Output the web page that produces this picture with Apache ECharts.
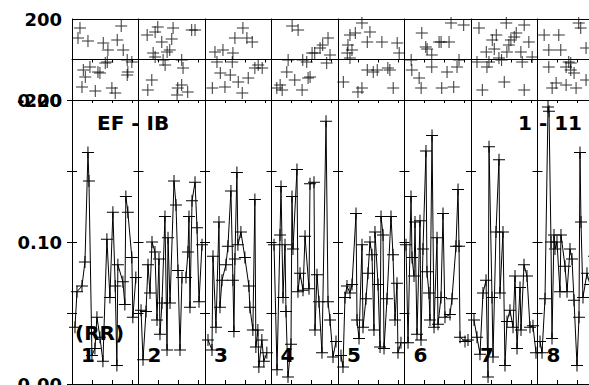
<!DOCTYPE html>
<html>
<head>
<meta charset="utf-8">
<script src="https://cdn.jsdelivr.net/npm/echarts@6/dist/echarts.min.js"></script>
<style>
  html, body { margin: 0; padding: 0; background: #fff; }
  #chart { width: 589px; height: 385px; }
</style>
</head>
<body>
<div id="chart"></div>
<script>
// lower panel (RR), one array per segment: [x, value]
const rr1 = [[0.45,0.040],[0.75,0.065],[1.5,0.069],[1.95,0.086],[2.4,0.163],[2.55,0.143],[3.0,0.020],[3.45,0.025],[3.75,0.047],[4.2,0.033],[4.65,0.016],[5.25,0.102],[5.7,0.061],[6.15,0.121],[6.5,0.069],[6.75,0.013],[6.9,0.084],[7.65,0.072],[7.95,0.056],[8.1,0.132],[8.4,0.121],[9.0,0.089],[9.15,0.047],[9.6,0.075]]
const rr2 = [[0.38,0.052],[0.68,0.017],[1.13,0.051],[1.43,0.084],[1.73,0.064],[2.03,0.100],[2.48,0.093],[2.78,0.045],[3.08,0.088],[3.23,0.035],[3.53,0.057],[3.98,0.118],[4.29,0.024],[4.44,0.103],[4.74,0.057],[5.34,0.143],[5.64,0.126],[5.94,0.080],[6.24,0.024],[6.54,0.075],[7.14,0.075],[7.44,0.093],[7.59,0.118],[7.74,0.054],[8.05,0.129],[8.5,0.142],[8.8,0.110],[9.1,0.058],[9.55,0.098]]
const rr3 = [[0.45,0.031],[1.05,0.024],[1.2,0.090],[1.65,0.040],[2.1,0.114],[2.25,0.054],[2.55,0.073],[3.15,0.084],[3.45,0.097],[3.9,0.136],[4.2,0.073],[4.35,0.037],[4.5,0.088],[4.8,0.149],[4.95,0.098],[5.4,0.107],[6.0,0.089],[6.6,0.069],[6.75,0.054],[7.2,0.038],[7.5,0.130],[7.65,0.026],[7.95,0.038],[8.1,0.012],[8.55,0.031],[8.85,0.016],[9.3,0.022]]
const rr4 = [[0.38,0.098],[0.83,0.010],[1.28,0.105],[1.43,0.139],[1.73,0.061],[2.03,0.098],[2.18,0.051],[2.48,0.005],[2.93,0.028],[3.08,0.132],[3.23,0.095],[3.83,0.151],[3.98,0.065],[4.29,0.078],[4.74,0.066],[5.04,0.104],[5.64,0.067],[5.79,0.141],[6.39,0.142],[6.54,0.038],[6.84,0.077],[7.14,0.058],[7.59,0.022],[8.2,0.185],[8.5,0.058],[8.8,0.045],[9.25,0.019],[9.7,0.030]]
const rr5 = [[0.45,0.020],[0.75,0.012],[1.05,0.061],[1.35,0.069],[1.8,0.064],[2.11,0.070],[2.71,0.120],[2.86,0.045],[3.16,0.032],[3.61,0.098],[3.76,0.040],[4.21,0.060],[4.51,0.078],[4.81,0.100],[5.11,0.091],[5.41,0.038],[5.56,0.107],[6.02,0.070],[6.32,0.026],[6.47,0.118],[6.77,0.105],[6.92,0.025],[7.37,0.060],[7.97,0.118],[8.27,0.091],[8.57,0.045],[8.87,0.071],[9.02,0.022],[9.47,0.029]]
const rr6 = [[0.23,0.098],[0.53,0.029],[0.98,0.132],[1.13,0.089],[1.43,0.076],[1.58,0.114],[1.88,0.035],[2.33,0.115],[2.48,0.031],[2.78,0.095],[3.23,0.164],[3.38,0.079],[3.68,0.064],[3.83,0.045],[4.14,0.175],[4.44,0.040],[4.89,0.103],[5.04,0.042],[5.49,0.061],[5.79,0.120],[6.09,0.047],[6.84,0.049],[7.14,0.060],[7.74,0.097],[8.05,0.137],[8.2,0.097],[8.35,0.033],[9.1,0.030],[9.55,0.031]]
const rr7 = [[0.45,0.045],[0.9,0.033],[1.35,0.021],[1.8,0.064],[2.26,0.073],[2.56,0.005],[2.71,0.167],[3.16,0.061],[3.31,0.019],[3.76,0.107],[4.21,0.158],[4.36,0.064],[4.81,0.107],[5.11,0.013],[5.41,0.044],[5.86,0.052],[6.32,0.040],[6.62,0.076],[6.92,0.025],[7.37,0.068],[7.52,0.038],[7.97,0.084],[8.42,0.076],[8.87,0.040],[9.32,0.041],[9.77,0.022]]
const rr8 = [[0.38,0.030],[0.68,0.022],[1.13,0.060],[1.58,0.195],[1.73,0.192],[2.03,0.100],[2.18,0.032],[2.48,0.105],[2.63,0.095],[2.93,0.100],[3.38,0.065],[3.53,0.105],[4.14,0.083],[4.44,0.065],[4.89,0.095],[5.19,0.088],[5.49,0.059],[5.94,0.013],[6.24,0.047],[6.39,0.163],[6.54,0.114],[6.84,0.061],[7.44,0.078],[7.89,0.070],[8.5,0.090],[9.1,0.060],[9.7,0.075]]

// upper panel (EF - IB), one array per segment: [x, value]
const ef1 = [[1.2,156],[7.4,165],[0.9,106],[2.4,91],[4.7,82],[6.8,96],[5.4,47],[7.7,47],[8.3,-2],[9.0,-12],[5.3,-12],[5.0,-17],[2.7,-37],[1.7,-52],[3.9,-62],[4.2,-67],[8.4,-62],[8.3,-77],[2.0,-86],[1.5,-136],[3.5,-156],[6.0,-141],[6.5,-165]]
const ef2 = [[1.3,121],[2.9,161],[2.5,136],[3.5,86],[5.0,101],[5.2,156],[8.0,146],[8.5,146],[2.2,32],[2.5,12],[4.3,37],[4.7,47],[3.7,-2],[4.0,-27],[6.5,-2],[6.7,-42],[2.0,-101],[1.4,-151],[5.9,-141],[6.5,-126],[7.4,-161],[5.8,-175]]
const ef3 = [[5.7,156],[4.5,106],[6.3,106],[7.1,86],[2.7,47],[1.5,37],[4.2,32],[1.8,-12],[4.1,-12],[8.0,-27],[8.6,-42],[7.5,-42],[2.3,-67],[3.8,-77],[6.5,-91],[5.0,-111],[1.1,-141],[3.0,-136],[5.6,-165]]
const ef4 = [[3.1,165],[4.0,146],[8.5,106],[7.7,72],[7.3,57],[6.5,32],[6.1,32],[8.8,22],[4.7,-2],[5.3,-12],[2.5,-2],[8.3,-17],[2.3,-62],[5.8,-86],[5.5,-91],[3.5,-101],[1.3,-126],[1.6,-151],[0.8,-141],[4.6,-151]]
const ef5 = [[3.6,180],[2.6,131],[1.8,121],[4.8,136],[4.4,86],[1.5,72],[2.1,47],[6.6,86],[8.9,82],[1.4,32],[1.8,7],[9.2,32],[4.4,-52],[5.3,-62],[5.9,-52],[7.5,-42],[7.8,-52],[0.8,-111],[3.0,-161],[3.6,-141],[8.3,-141]]
const ef6 = [[2.6,131],[7.0,180],[8.9,170],[3.2,62],[3.4,52],[5.2,86],[5.5,86],[6.7,86],[4.1,22],[1.0,-2],[1.1,-52],[2.2,-91],[4.1,-37],[6.4,-62],[7.9,-37],[8.2,-2],[7.4,-136],[5.6,-141],[2.5,-141]]
const ef7 = [[1.2,156],[3.8,121],[5.3,180],[8.0,170],[6.8,131],[6.5,111],[6.0,96],[5.7,72],[8.7,86],[3.2,96],[2.3,37],[3.5,52],[5.4,37],[7.5,37],[4.2,7],[4.6,-2],[2.7,-12],[0.9,-12],[7.7,-12],[9.2,12],[2.4,-37],[5.0,-111],[1.7,-151],[8.0,-151]]
const ef8 = [[1.0,121],[3.2,121],[6.2,180],[6.5,156],[1.7,47],[3.5,47],[7.3,57],[4.7,-12],[5.0,-17],[1.7,-37],[4.3,-37],[5.0,-52],[5.5,-67],[7.3,-101],[2.8,-116],[2.2,-141],[4.3,-126],[5.8,-141]]

const rrSegments = [rr1, rr2, rr3, rr4, rr5, rr6, rr7, rr8]
const efSegments = [ef1, ef2, ef3, ef4, ef5, ef6, ef7, ef8]
const segLabels = ['1', '2', '3', '4', '5', '6', '7', '8']

const myChart = echarts.init(document.getElementById('chart'), null, { renderer: 'svg' })

const font = 'DejaVu Sans'
const segLeft = 72
const segWidth = 66.5
// thin plus sign, filled
const cross = 'path://M-6,-0.5L6,-0.5L6,0.5L-6,0.5Z M-0.5,-6L0.5,-6L0.5,6L-0.5,6Z'
const axisLine = { show: true, lineStyle: { color: '#000', width: 1 } }

const grid = []
const xAxis = []
const yAxis = []
const series = []
const graphic = []

segLabels.forEach((lab, i) => {
  const left = segLeft + i * segWidth
  // upper panel
  grid.push({ left: left, top: 19, width: segWidth, height: 81, outerBoundsMode: 'none' })
  // lower panel
  grid.push({ left: left, top: 100, width: segWidth, height: 284, outerBoundsMode: 'none' })
  const gTop = 2 * i
  const gBot = 2 * i + 1

  const xBase = { type: 'value', min: 0, max: 10, interval: 3, axisLine: axisLine, axisLabel: { show: false }, splitLine: { show: false } }
  // upper: top edge ticks point in
  xAxis.push(Object.assign({}, xBase, { gridIndex: gTop, position: 'top', axisTick: { inside: true, length: 3, lineStyle: { color: '#000' } } }))
  const xTopIdx = xAxis.length - 1
  xAxis.push(Object.assign({}, xBase, { gridIndex: gTop, position: 'bottom', axisTick: { length: 3, lineStyle: { color: '#000' } } }))
  // lower
  xAxis.push(Object.assign({}, xBase, { gridIndex: gBot, position: 'bottom', axisTick: { inside: true, length: 4, lineStyle: { color: '#000' } } }))
  const xBotIdx = xAxis.length - 1
  xAxis.push(Object.assign({}, xBase, { gridIndex: gBot, position: 'top', axisTick: { length: 3, lineStyle: { color: '#000' } } }))

  yAxis.push({
    type: 'value', gridIndex: gTop, min: -200, max: 200, interval: 200, position: 'left',
    axisLine: axisLine, axisTick: { show: false },
    splitLine: { show: true, lineStyle: { color: '#000', width: 1 } },
    axisLabel: {
      show: i === 0, margin: 10, color: '#000', fontFamily: font, fontWeight: 'bold', fontSize: 18,
      formatter: v => (v === 0 ? '' : String(v)),
    },
  })
  const yTopIdx = yAxis.length - 1
  yAxis.push({
    type: 'value', gridIndex: gBot, min: 0, max: 0.2, interval: 0.05, position: 'left',
    axisLine: axisLine, axisTick: { length: 5, lineStyle: { color: '#000' } },
    splitLine: { show: false },
    axisLabel: {
      show: i === 0, margin: 10, color: '#000', fontFamily: font, fontWeight: 'bold', fontSize: 18,
      formatter: v => (Math.round(v * 100) % 10 === 0 ? v.toFixed(2) : ''),
    },
  })
  const yBotIdx = yAxis.length - 1
  yAxis.push({
    type: 'value', gridIndex: gBot, min: 0, max: 0.2, interval: 0.05, position: 'right',
    axisLine: axisLine, axisTick: { length: 5, lineStyle: { color: '#000' } },
    splitLine: { show: false }, axisLabel: { show: false },
  })

  series.push({
    type: 'scatter', xAxisIndex: xTopIdx, yAxisIndex: yTopIdx,
    symbol: cross, symbolSize: 12, clip: false,
    itemStyle: { color: '#000' },
    data: efSegments[i],
  })
  series.push({
    type: 'line', xAxisIndex: xBotIdx, yAxisIndex: yBotIdx,
    symbol: cross, symbolSize: 12, showSymbol: true, clip: false,
    lineStyle: { color: '#000', width: 1 },
    itemStyle: { color: '#000' },
    data: rrSegments[i],
  })

  graphic.push({
    type: 'text', left: left + 9, top: 345,
    style: { text: lab, font: 'bold 20px "DejaVu Sans"', fill: '#000' },
  })
})

graphic.push({ type: 'text', left: 97, top: 113, style: { text: 'EF - IB', font: 'bold 20px "DejaVu Sans"', fill: '#000' } })
graphic.push({ type: 'text', left: 518, top: 113, style: { text: '1 - 11', font: 'bold 20px "DejaVu Sans"', fill: '#000' } })
graphic.push({ type: 'text', left: 75, top: 323, style: { text: '(RR)', font: 'bold 20px "DejaVu Sans"', fill: '#000' } })

const option = {
  backgroundColor: '#fff',
  animation: false,
  grid: grid,
  xAxis: xAxis,
  yAxis: yAxis,
  series: series,
  graphic: graphic,
}

myChart.setOption(option)
window.addEventListener('resize', function () {
  myChart.resize()
})
</script>
</body>
</html>
